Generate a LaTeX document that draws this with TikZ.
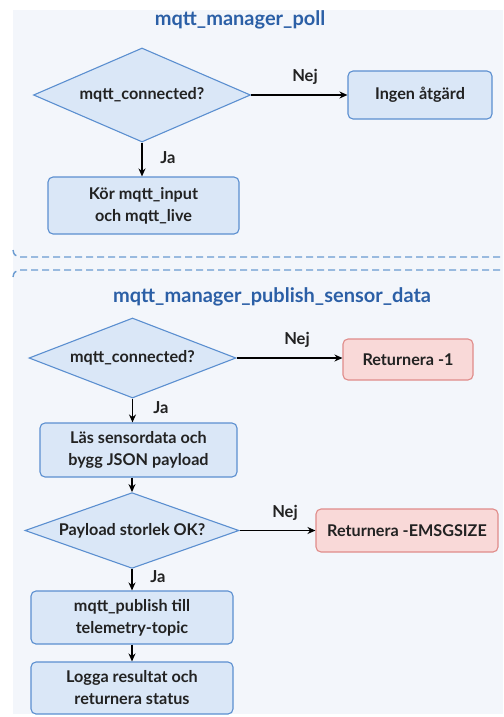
\documentclass[tikz,border=0pt]{standalone}
\usepackage{fontspec}
\setmainfont{Lato}
\usetikzlibrary{shapes.geometric,arrows.meta}
\definecolor{panelbg}{HTML}{F3F6FB}
\definecolor{panelline}{HTML}{6A9BD1}
\definecolor{titleblue}{HTML}{2B5FA6}
\definecolor{boxfill}{HTML}{DAE7F7}
\definecolor{boxline}{HTML}{5B8FD0}
\definecolor{errfill}{HTML}{F9D9D8}
\definecolor{errline}{HTML}{E08C8A}
\definecolor{ink}{HTML}{222222}
\tikzset{
  x=1pt, y=1pt,
  every node/.style={font=\bfseries\fontsize{16.2}{22}\selectfont, text=ink},
  title/.style={font=\bfseries\fontsize{20}{24}\selectfont, text=titleblue},
  decision/.style={diamond, draw=boxline, fill=boxfill, line width=1.1pt,
    inner sep=0pt, shape aspect=2.4},
  stepbox/.style={rectangle, rounded corners=5pt, draw=boxline, fill=boxfill,
    line width=1.1pt, align=center, inner sep=0pt},
  errbox/.style={stepbox, draw=errline, fill=errfill},
  flow/.style={-{Stealth[length=8pt,width=7pt]}, line width=1.3pt, black},
  lbl/.style={font=\bfseries\fontsize{16.5}{20}\selectfont},
  divider/.style={draw=panelline, line width=1.4pt, dash pattern=on 7pt off 4pt}
}
\begin{document}
\begin{tikzpicture}
\useasboundingbox (0,0) rectangle (503,-717);
% panel background
\fill[panelbg] (13,-10) rectangle (503,-714);
% dashed section separators
\draw[divider] (13,-250) .. controls (14,-255) .. (20,-257) -- (503,-257);
\draw[divider] (13,-277) .. controls (14,-272) .. (20,-270) -- (503,-270);

% --- mqtt_manager_poll
\node[title] (t1) at (240,-20) {mqtt\_manager\_poll};
\node[decision, minimum width=217pt, minimum height=94pt] (d1) at (142,-95) {mqtt\_connected?};
\node[stepbox, minimum width=144pt, minimum height=48pt] (b1) at (420,-95) {Ingen åtgärd};
\node[stepbox, minimum width=191pt, minimum height=57pt] (b2) at (143.5,-205.5) {Kör mqtt\_input\\och mqtt\_live};
\draw[flow] (d1.east) -- (b1.west);
\node[lbl] (n1) at (305,-77) {Nej};
\draw[flow] (d1.south) -- (d1.south |- b2.north);
\node[lbl] (j1) at (168,-158) {Ja};

% --- mqtt_manager_publish_sensor_data
\node[title] (t2) at (272,-297) {mqtt\_manager\_publish\_sensor\_data};
\node[decision, minimum width=207pt, minimum height=80pt] (d2) at (132.5,-358) {mqtt\_connected?};
\node[errbox, minimum width=130pt, minimum height=41pt] (r1) at (408,-359.5) {Returnera -1};
\node[stepbox, minimum width=197pt, minimum height=54pt] (b3) at (138.5,-450) {Läs sensordata och\\bygg JSON payload};
\node[decision, minimum width=214pt, minimum height=75pt] (d3) at (132,-530.5) {Payload storlek OK?};
\node[errbox, minimum width=182pt, minimum height=43pt] (r2) at (407,-530.5) {Returnera -EMSGSIZE};
\node[stepbox, minimum width=202pt, minimum height=53pt] (b4) at (132,-617.5) {mqtt\_publish till\\telemetry-topic};
\node[stepbox, minimum width=202pt, minimum height=52pt] (b5) at (132,-688) {Logga resultat och\\returnera status};

\draw[flow] (d2.east) -- (r1.west |- d2.east);
\node[lbl] (n2) at (297,-340) {Nej};
\draw[flow] (d2.south) -- (d2.south |- b3.north);
\node[lbl] (j2) at (161,-408) {Ja};
\draw[flow] (b3.south -| d3.north) -- (d3.north);
\draw[flow] (d3.east) -- (r2.west);
\node[lbl] (n3) at (285,-513) {Nej};
\draw[flow] (d3.south) -- (b4.north);
\node[lbl] (j3) at (158,-577) {Ja};
\draw[flow] (b4.south) -- (b5.north);
\end{tikzpicture}
\end{document}
